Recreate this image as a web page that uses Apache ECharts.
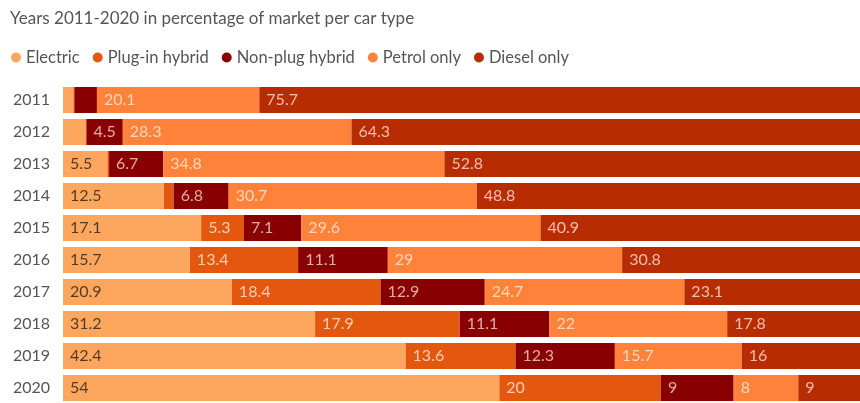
<!DOCTYPE html>
<html>
<head>
<meta charset="utf-8">
<script src="https://cdn.jsdelivr.net/npm/echarts@6/dist/echarts.min.js"></script>
<style>
  html, body { margin: 0; padding: 0; background: #fff; }
  #chart { width: 860px; height: 403px; }
</style>
</head>
<body>
<div id="chart"></div>
<script>
// Market share (%) per car type, one value per year
const years = ['2011', '2012', '2013', '2014', '2015', '2016', '2017', '2018', '2019', '2020'];
const electric = [1.3, 2.8, 5.5, 12.5, 17.1, 15.7, 20.9, 31.2, 42.4, 54];
const plugInHybrid = [0.1, 0.1, 0.2, 1.2, 5.3, 13.4, 18.4, 17.9, 13.6, 20];
const nonPlugHybrid = [2.8, 4.5, 6.7, 6.8, 7.1, 11.1, 12.9, 11.1, 12.3, 9];
const petrolOnly = [20.1, 28.3, 34.8, 30.7, 29.6, 29, 24.7, 22, 15.7, 8];
const dieselOnly = [75.7, 64.3, 52.8, 48.8, 40.9, 30.8, 23.1, 17.8, 16, 9];

const FONT = 'Lato, "Noto Sans", sans-serif';

function makeSeries(name, data, color, labelColor) {
  return {
    name: name,
    type: 'bar',
    stack: 'total',
    barCategoryGap: '18.75%',
    data: data,
    itemStyle: { color: color },
    emphasis: { disabled: true },
    label: {
      show: true,
      position: 'insideLeft',
      distance: 7,
      fontFamily: FONT,
      fontSize: 16,
      color: labelColor,
      formatter: p => (p.value >= 4 ? String(p.value) : '')
    }
  };
}

const chart = echarts.init(document.getElementById('chart'), null, { renderer: 'canvas' });
chart.setOption({
  animation: false,
  backgroundColor: '#fff',
  title: {
    text: 'Years 2011-2020 in percentage of market per car type',
    left: 5,
    top: 5,
    textStyle: { fontFamily: FONT, fontSize: 17, fontWeight: 'normal', color: '#555' }
  },
  legend: {
    left: 6,
    top: 44,
    icon: 'circle',
    itemWidth: 10,
    itemHeight: 10,
    itemGap: 13,
    textStyle: { fontFamily: FONT, fontSize: 16.5, color: '#555' },
    data: ['Electric', 'Plug-in hybrid', 'Non-plug hybrid', 'Petrol only', 'Diesel only']
  },
  // the 100% end of the bars runs a little past the right edge of the canvas
  grid: { left: 63, top: 84, width: 808, height: 320, containLabel: false, outerBoundsMode: 'none' },
  xAxis: {
    type: 'value',
    min: 0,
    max: 100,
    show: false
  },
  yAxis: {
    type: 'category',
    data: years,
    inverse: true,
    axisLine: { show: false },
    axisTick: { show: false },
    splitLine: { show: false },
    axisLabel: { fontFamily: FONT, fontSize: 16, color: '#555', margin: 13 }
  },
  series: [
    makeSeries('Electric', electric, '#fda75e', 'rgba(40,30,20,0.8)'),
    makeSeries('Plug-in hybrid', plugInHybrid, '#e4570f', 'rgba(255,235,220,0.8)'),
    makeSeries('Non-plug hybrid', nonPlugHybrid, '#880000', 'rgba(255,225,225,0.75)'),
    makeSeries('Petrol only', petrolOnly, '#ff823a', 'rgba(255,235,220,0.8)'),
    makeSeries('Diesel only', dieselOnly, '#b82c02', 'rgba(255,225,215,0.8)')
  ]
});
</script>
</body>
</html>
